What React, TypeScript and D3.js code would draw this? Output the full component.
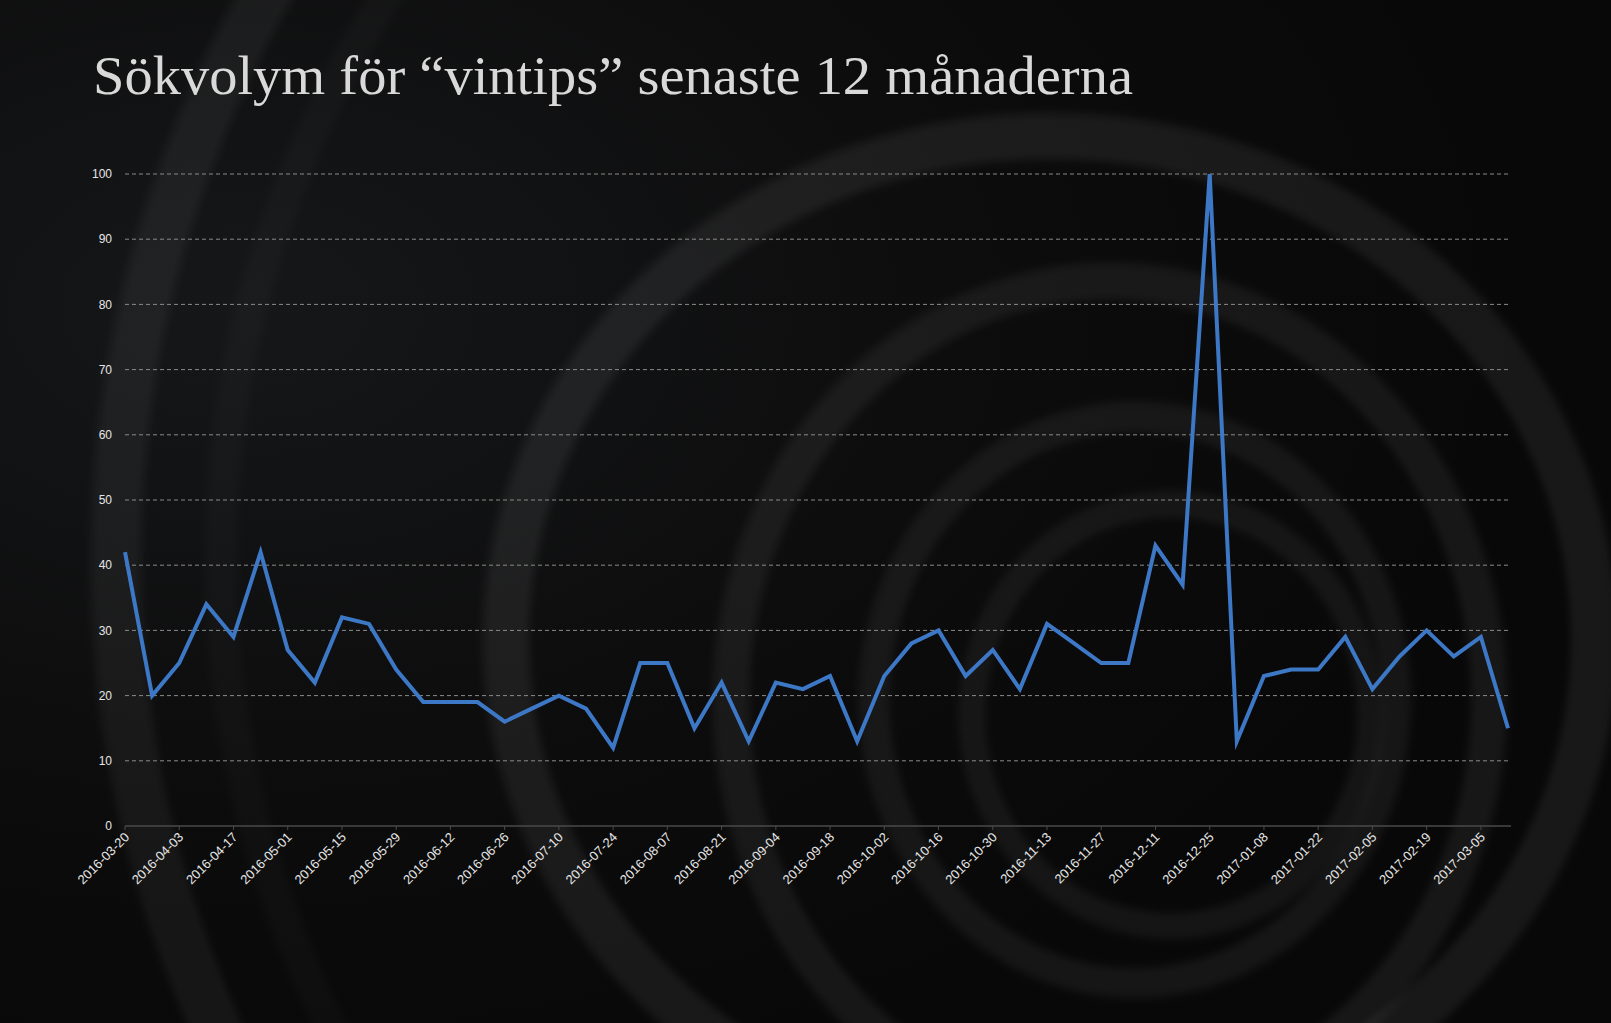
import { useEffect, useRef } from 'react';
import * as d3 from 'd3';

const TITLE = 'Sökvolym för “vintips” senaste 12 månaderna';

// weekly search volume, first week 2016-03-20
const START_DATE = '2016-03-20';
const VALUES = [
  42, 20, 25, 34, 29, 42, 27, 22, 32, 31, 24, 19, 19, 19, 16, 18, 20, 18, 12, 25,
  25, 15, 22, 13, 22, 21, 23, 13, 23, 28, 30, 23, 27, 21, 31, 28, 25, 25, 43, 37,
  100, 13, 23, 24, 24, 29, 21, 26, 30, 26, 29, 15,
];

const TICK_LABELS = [
  '2016-03-20', '2016-04-03', '2016-04-17', '2016-05-01', '2016-05-15', '2016-05-29',
  '2016-06-12', '2016-06-26', '2016-07-10', '2016-07-24', '2016-08-07', '2016-08-21',
  '2016-09-04', '2016-09-18', '2016-10-02', '2016-10-16', '2016-10-30', '2016-11-13',
  '2016-11-27', '2016-12-11', '2016-12-25', '2017-01-08', '2017-01-22', '2017-02-05',
  '2017-02-19', '2017-03-05',
];

const Y_TICKS = [0, 10, 20, 30, 40, 50, 60, 70, 80, 90, 100];

// background rings: cx, cy, rx, ry, width, opacity
const RINGS: [number, number, number, number, number, number][] = [
  [1150, 560, 1035, 1090, 48, 0.05],
  [1150, 560, 930, 990, 30, 0.02],
  [1050, 640, 545, 505, 44, 0.065],
  [1110, 700, 380, 420, 34, 0.06],
  [1135, 700, 262, 284, 28, 0.055],
  [1171, 715, 200, 212, 24, 0.05],
];

const W = 1611;
const H = 1023;
const margin = { top: 174, right: 103, bottom: 197, left: 125 };

export default function App() {
  const svgRef = useRef<SVGSVGElement>(null);

  useEffect(() => {
    if (!svgRef.current) return;
    const svg = d3.select(svgRef.current);
    svg.selectAll('*').remove();

    const parse = d3.utcParse('%Y-%m-%d');
    const start = parse(START_DATE)!;
    const data = VALUES.map((v, i) => ({ date: d3.utcDay.offset(start, 7 * i), value: v }));

    const x = d3
      .scaleUtc()
      .domain([data[0].date, data[data.length - 1].date])
      .range([margin.left, W - margin.right]);
    const y = d3
      .scaleLinear()
      .domain([0, 100])
      .range([H - margin.bottom, margin.top]);

    const defs = svg.append('defs');
    const grad = defs
      .append('radialGradient')
      .attr('id', 'bg')
      .attr('cx', '0.15')
      .attr('cy', '0.3')
      .attr('r', '0.8');
    grad.append('stop').attr('offset', '0%').attr('stop-color', '#161718');
    grad.append('stop').attr('offset', '60%').attr('stop-color', '#0c0c0d');
    grad.append('stop').attr('offset', '100%').attr('stop-color', '#080808');

    defs
      .append('filter')
      .attr('id', 'soft')
      .attr('x', '-20%')
      .attr('y', '-20%')
      .attr('width', '140%')
      .attr('height', '140%')
      .append('feGaussianBlur')
      .attr('stdDeviation', 4);

    defs
      .append('clipPath')
      .attr('id', 'plot')
      .append('rect')
      .attr('x', margin.left - 5)
      .attr('y', margin.top)
      .attr('width', W - margin.left - margin.right + 10)
      .attr('height', H - margin.top - margin.bottom + 5);

    svg.append('rect').attr('width', W).attr('height', H).attr('fill', 'url(#bg)');

    const rings = svg.append('g').attr('filter', 'url(#soft)');
    for (const [cx, cy, rx, ry, sw, op] of RINGS) {
      rings
        .append('ellipse')
        .attr('cx', cx)
        .attr('cy', cy)
        .attr('rx', rx)
        .attr('ry', ry)
        .attr('fill', 'none')
        .attr('stroke', '#ffffff')
        .attr('stroke-opacity', op)
        .attr('stroke-width', sw);
      rings
        .append('ellipse')
        .attr('cx', cx)
        .attr('cy', cy)
        .attr('rx', rx - sw / 2)
        .attr('ry', ry - sw / 2)
        .attr('fill', 'none')
        .attr('stroke', '#ffffff')
        .attr('stroke-opacity', op * 0.8)
        .attr('stroke-width', 3);
    }

    svg
      .append('text')
      .attr('x', 93)
      .attr('y', 94)
      .attr('font-family', '"Liberation Serif", "Times New Roman", serif')
      .attr('font-size', 54)
      .attr('textLength', 1040)
      .attr('lengthAdjust', 'spacingAndGlyphs')
      .attr('fill', '#d9d9d9')
      .text(TITLE);

    // grid + y labels
    const grid = svg.append('g');
    for (const t of Y_TICKS) {
      if (t > 0) {
        grid
          .append('line')
          .attr('x1', margin.left)
          .attr('x2', W - margin.right)
          .attr('y1', y(t))
          .attr('y2', y(t))
          .attr('stroke', '#8a8a8a')
          .attr('stroke-width', 1)
          .attr('stroke-dasharray', '4 3');
      }
      grid
        .append('text')
        .attr('x', 112)
        .attr('y', y(t))
        .attr('dy', '0.35em')
        .attr('text-anchor', 'end')
        .attr('font-family', '"Liberation Sans", Arial, sans-serif')
        .attr('font-size', 12)
        .attr('fill', '#e6e6e6')
        .text(t);
    }

    // x axis
    const axis = svg.append('g');
    axis
      .append('line')
      .attr('x1', margin.left)
      .attr('x2', W - margin.right + 3)
      .attr('y1', y(0))
      .attr('y2', y(0))
      .attr('stroke', '#4a4a4a')
      .attr('stroke-width', 1.5);
    for (const label of TICK_LABELS) {
      const tx = x(parse(label)!);
      axis
        .append('line')
        .attr('x1', tx)
        .attr('x2', tx)
        .attr('y1', y(0))
        .attr('y2', y(0) + 4)
        .attr('stroke', '#4a4a4a');
      axis
        .append('text')
        .attr('transform', `translate(${tx + 5},${y(0) + 12}) rotate(-45)`)
        .attr('text-anchor', 'end')
        .attr('font-family', '"Liberation Sans", Arial, sans-serif')
        .attr('font-size', 13)
        .attr('fill', '#e6e6e6')
        .text(label);
    }

    const line = d3
      .line<{ date: Date; value: number }>()
      .x((d) => x(d.date))
      .y((d) => y(d.value));

    svg
      .append('path')
      .datum(data)
      .attr('clip-path', 'url(#plot)')
      .attr('d', line)
      .attr('fill', 'none')
      .attr('stroke', '#3d78c6')
      .attr('stroke-width', 4)
      .attr('stroke-linejoin', 'miter')
      .attr('stroke-miterlimit', 10);
  }, []);

  return (
    <svg
      ref={svgRef}
      width={W}
      height={H}
      style={{ position: 'absolute', left: 0, top: 0, display: 'block' }}
    />
  );
}
